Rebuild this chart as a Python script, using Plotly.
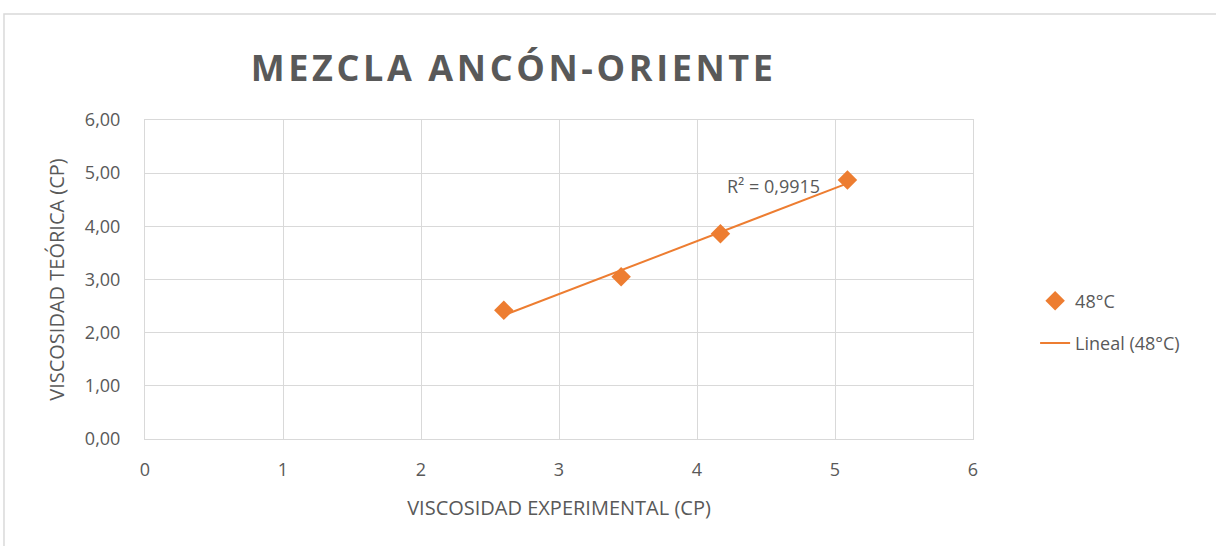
import numpy as np
import plotly.graph_objects as go

visc_exp = [2.60, 3.45, 4.17, 5.09]
visc_teo = [2.42, 3.05, 3.86, 4.87]
x_ticks = [0, 1, 2, 3, 4, 5, 6]
y_ticks = [0, 1, 2, 3, 4, 5, 6]
y_tick_labels = ["0,00", "1,00", "2,00", "3,00", "4,00", "5,00", "6,00"]
r2_label = "R² = 0,9915"
title_text = "MEZCLA ANCÓN-ORIENTE"

ORANGE = "#ED7D31"
GRAY_TXT = "#595959"
GRID = "#D9D9D9"
FONT = "Open Sans"

slope, intercept = np.polyfit(visc_exp, visc_teo, 1)
fit_x = [min(visc_exp), max(visc_exp)]
fit_y = [slope * v + intercept for v in fit_x]

spaced_title = "\u200a".join(title_text)

fig = go.Figure()
fig.add_trace(go.Scatter(
    x=visc_exp, y=visc_teo, mode="markers", name="48°C",
    marker=dict(symbol="diamond", size=15, color=ORANGE),
    legendgroup="a",
))
fig.add_trace(go.Scatter(
    x=fit_x, y=fit_y, mode="lines", name="Lineal (48°C)",
    line=dict(color=ORANGE, width=2),
    legendgroup="b",
))

fig.add_annotation(x=4.557, y=4.76, xref="x", yref="y", text=r2_label,
                   showarrow=False, font=dict(family=FONT, size=18, color=GRAY_TXT))

fig.add_shape(type="rect", xref="paper", yref="paper",
              x0=-0.1703, x1=1.6, y0=-0.6, y1=1.332,
              line=dict(color=GRID, width=1.5), layer="below")

fig.update_layout(
    width=1216, height=546,
    margin=dict(l=145, r=243, t=120, b=107),
    paper_bgcolor="white", plot_bgcolor="white",
    font=dict(family=FONT, color=GRAY_TXT, size=18),
    title=dict(text="<b>" + spaced_title + "</b>", x=0.443, xref="paper", xanchor="center",
               y=1 - 68 / 546, yanchor="middle",
               font=dict(family=FONT, size=36, color=GRAY_TXT)),
    xaxis=dict(range=[0, 6], tickvals=x_ticks, ticktext=[str(v) for v in x_ticks],
               showgrid=True, gridcolor=GRID, gridwidth=1.2, zeroline=False,
               showline=True, linecolor=GRID, mirror=True, ticks="",
               tickfont=dict(size=18), ticklabelstandoff=14,
               title=dict(text="VISCOSIDAD EXPERIMENTAL (CP)", font=dict(size=20), standoff=21)),
    yaxis=dict(range=[0, 6], tickvals=y_ticks, ticktext=y_tick_labels,
               showgrid=True, gridcolor=GRID, gridwidth=1.2, zeroline=False,
               showline=True, linecolor=GRID, mirror=True, ticks="",
               tickfont=dict(size=18), ticklabelstandoff=20,
               title=dict(text="VISCOSIDAD TEÓRICA (CP)", font=dict(size=20), standoff=14)),
    legend=dict(x=1.075, y=0.367, xanchor="left", yanchor="middle",
                font=dict(size=18, color=GRAY_TXT), tracegroupgap=16,
                bgcolor="rgba(0,0,0,0)"),
    showlegend=True,
)

fig.write_html("out.html", config={"displayModeBar": False},
               post_script="document.body.style.margin='0';document.body.style.overflow='hidden';")
